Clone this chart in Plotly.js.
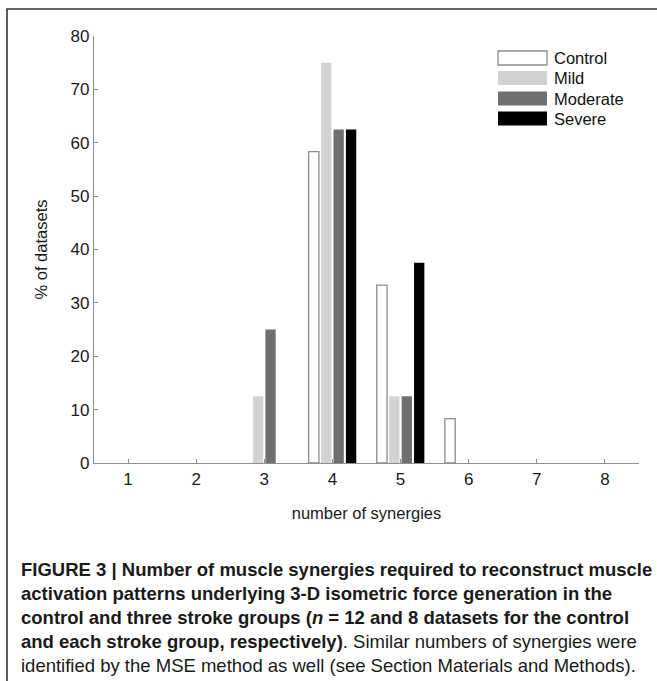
<!DOCTYPE html>
<html>
<head>
<meta charset="utf-8">
<script src="https://cdn.plot.ly/plotly-3.0.1.min.js"></script>
<style>
html,body{margin:0;padding:0;background:#fff;}
#chart{width:657px;height:681px;}
</style>
</head>
<body>
<div id="chart"></div>
<script>
// ---- data ----
const synergies = [1, 2, 3, 4, 5, 6, 7, 8];
const groupNames = ["Control", "Mild", "Moderate", "Severe"];
const control  = [0, 0, 0,    58.33, 33.33, 8.33, 0, 0];
const mild     = [0, 0, 12.5, 75,    12.5,  0,    0, 0];
const moderate = [0, 0, 25,   62.5,  12.5,  0,    0, 0];
const severe   = [0, 0, 0,    62.5,  37.5,  0,    0, 0];
const yTicks = [0, 10, 20, 30, 40, 50, 60, 70, 80];

// ---- styles ----
const fills   = ["#ffffff", "#d2d2d2", "#6f6f6f", "#000000"];
const edges   = ["#8c8c8c", "#d2d2d2", "#6f6f6f", "#000000"];
const edgeW   = [1.3, 0, 0, 0];
const series  = [control, mild, moderate, severe];
const FONT = "'Liberation Sans', Arial, Helvetica, sans-serif";

const traces = series.map((vals, i) => ({
  type: "bar",
  name: groupNames[i],
  x: synergies,
  y: vals,
  marker: {
    color: fills[i],
    line: {color: edges[i], width: vals.map(v => (v > 0 ? edgeW[i] : 0))}
  },
  showlegend: false,
  hoverinfo: "x+y+name"
}));

// plot area geometry (pixels) for paper conversions
const L = 94, R = 18, T = 36, B = 218, W = 657, H = 681;
const pw = W - L - R, ph = H - T - B;
const px2x = p => (p - L) / pw;
const py2y = p => 1 - (p - T) / ph;

// custom legend (swatches + labels)
const shapes = [];
const annotations = [];
const rowY = [58, 78, 98.5, 118.5];
groupNames.forEach((nm, i) => {
  shapes.push({
    type: "rect", xref: "paper", yref: "paper",
    x0: px2x(498), x1: px2x(547),
    y0: py2y(rowY[i] + 7), y1: py2y(rowY[i] - 7),
    fillcolor: fills[i],
    line: {color: i === 0 ? "#8c8c8c" : fills[i], width: i === 0 ? 1.3 : 0}
  });
  annotations.push({
    xref: "paper", yref: "paper", x: px2x(552), y: py2y(rowY[i]),
    xanchor: "left", yanchor: "middle", showarrow: false,
    text: nm, font: {family: FONT, size: 16.5, color: "#111"}
  });
});

// figure frame
shapes.push({
  type: "rect", xref: "paper", yref: "paper",
  x0: px2x(7), x1: px2x(720), y0: py2y(760), y1: py2y(9),
  line: {color: "#333333", width: 1.6}, fillcolor: "rgba(0,0,0,0)"
});

// caption
annotations.push({
  xref: "paper", yref: "paper", x: px2x(19), y: py2y(557),
  xanchor: "left", yanchor: "top", align: "left", showarrow: false,
  font: {family: FONT, size: 18.5, color: "#1a1a1a"},
  text: "<b>FIGURE 3 | Number of muscle synergies required to reconstruct muscle<br>" +
        "activation patterns underlying 3-D isometric force generation in the<br>" +
        "control and three stroke groups (<i>n</i> = 12 and 8 datasets for the control<br>" +
        "and each stroke group, respectively)</b>. Similar numbers of synergies were<br>" +
        "identified by the MSE method as well (see Section Materials and Methods)."
});

const axisCommon = {
  showline: true, linecolor: "#8f8f8f", linewidth: 1.2,
  ticks: "inside", ticklen: 4, tickwidth: 1, tickcolor: "#8f8f8f",
  showgrid: false, zeroline: false, mirror: false,
  tickfont: {family: FONT, size: 17, color: "#1a1a1a"}
};

const layout = {
  width: W, height: H,
  margin: {l: L, r: R, t: T, b: B, pad: 0},
  paper_bgcolor: "#ffffff", plot_bgcolor: "#ffffff",
  font: {family: FONT, color: "#1a1a1a"},
  barmode: "group", bargap: 0.27, bargroupgap: 0.17,
  xaxis: Object.assign({}, axisCommon, {
    range: [0.5, 8.5], tickvals: synergies, ticktext: synergies.map(String),
    title: {text: "number of synergies", font: {family: FONT, size: 16.5, color: "#1a1a1a"}, standoff: 19}
  }),
  yaxis: Object.assign({}, axisCommon, {
    range: [0, 80], tickvals: yTicks, ticktext: yTicks.map(String),
    title: {text: "% of datasets", font: {family: FONT, size: 16.5, color: "#1a1a1a"}, standoff: 18}
  }),
  shapes: shapes,
  annotations: annotations,
  showlegend: false
};

Plotly.newPlot("chart", traces, layout, {displayModeBar: false, staticPlot: true});
</script>
</body>
</html>
